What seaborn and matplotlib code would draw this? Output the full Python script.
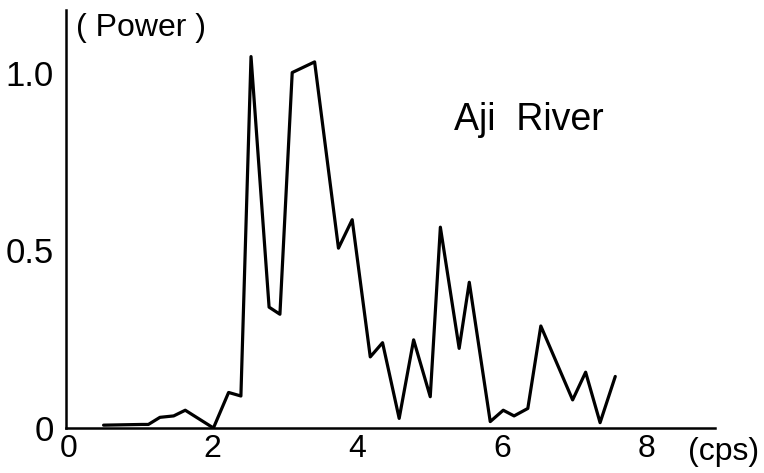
import matplotlib
matplotlib.use("Agg")
import matplotlib.pyplot as plt
import seaborn as sns
import pandas as pd

freq = [0.49, 1.02, 1.11, 1.27, 1.46, 1.62, 2.01, 2.22, 2.39, 2.53, 2.78, 2.93,
        3.10, 3.41, 3.74, 3.93, 4.18, 4.35, 4.58, 4.78, 5.01, 5.15, 5.41, 5.55,
        5.84, 6.02, 6.17, 6.36, 6.54, 6.98, 7.16, 7.36, 7.57]
power = [0.008, 0.01, 0.01, 0.03, 0.034, 0.05, 0.0, 0.10, 0.09, 1.045, 0.34, 0.32,
         1.0, 1.03, 0.506, 0.586, 0.20, 0.24, 0.027, 0.248, 0.088, 0.565, 0.224, 0.41,
         0.018, 0.05, 0.034, 0.055, 0.287, 0.079, 0.157, 0.015, 0.145]
xtick_vals = [0, 2, 4, 6, 8]
xtick_labels = ["0", "2", "4", "6", "8"]
xminor_vals = [1, 3, 5, 7]
ytick_vals = [0, 0.5, 1.0]
ytick_labels = ["0", "0.5", "1.0"]

sns.set_style("white")
plt.rcParams['font.family'] = ['Liberation Sans', 'DejaVu Sans']
plt.rcParams['text.color'] = 'black'

df = pd.DataFrame({"freq": freq, "power": power})

fig = plt.figure(figsize=(7.64, 4.73), dpi=100)
ax = fig.add_axes([66/764, 45/473, 649/764, 418/473])
sns.lineplot(data=df, x="freq", y="power", ax=ax, color="black", linewidth=2.3, sort=False)

ax.set_xlim(-0.03, 8.95)
ax.set_ylim(0, 1.176)
for s in ["top", "right"]:
    ax.spines[s].set_visible(False)
for s in ["left", "bottom"]:
    ax.spines[s].set_color("black")
    ax.spines[s].set_linewidth(1.8)

ax.set_xticks(xtick_vals)
ax.set_xticklabels(xtick_labels, fontsize=23)
ax.set_xticks(xminor_vals, minor=True)
ax.set_yticks(ytick_vals)
ax.set_yticklabels(ytick_labels, fontsize=25)
ax.tick_params(axis="x", which="both", direction="in", length=5, width=1.5, pad=4,
               colors="black", labelcolor="black")
ax.tick_params(axis="x", which="major", length=0)
ax.tick_params(axis="y", direction="in", length=9, width=1.8, pad=9,
               colors="black", labelcolor="black")
ax.set_xlabel("")
ax.set_ylabel("")

fig.text(141/764, 1 - 28/473, "( Power )", fontsize=23, ha="center", va="center", color="black")
fig.text(724/764, 1 - 452/473, "(cps)", fontsize=23, ha="center", va="center", color="black")
fig.text(529/764, 1 - 120/473, "Aji  River", fontsize=27, ha="center", va="center", color="black")

fig.savefig("out.png", dpi=100)
